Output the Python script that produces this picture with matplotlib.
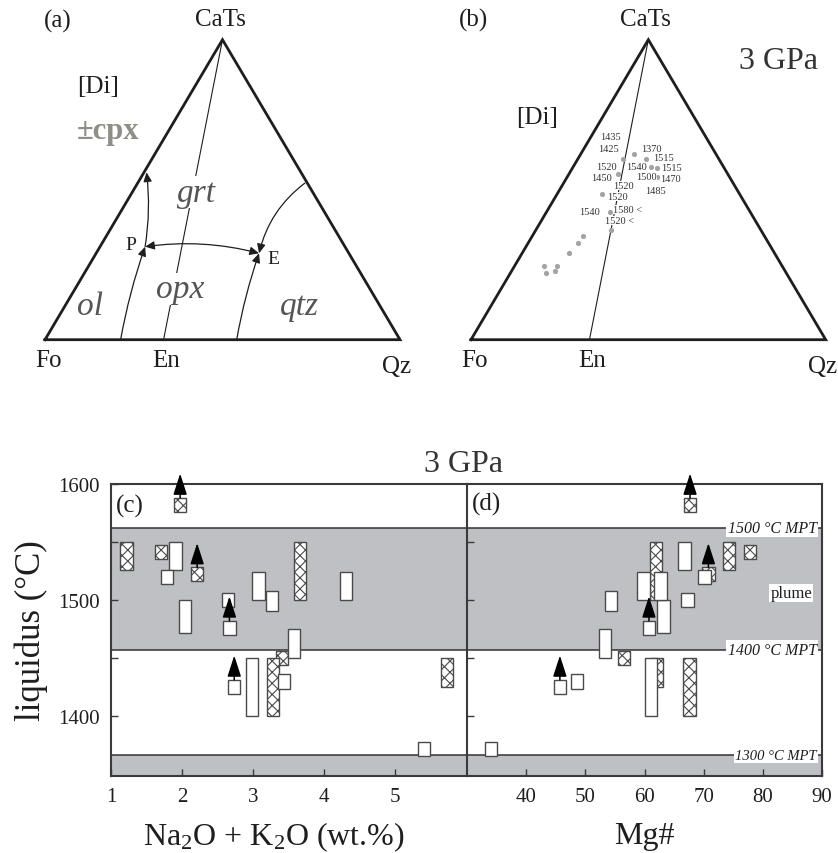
import numpy as np
import matplotlib.pyplot as plt

plt.rcParams['font.family'] = ['Liberation Serif', 'DejaVu Serif']
plt.rcParams['mathtext.default'] = 'regular'
plt.rcParams['hatch.linewidth'] = 0.8

# --- panel (b): melt compositions in the Fo-Qz-CaTs projection
# x: along Fo-Qz base (0..1), y: towards CaTs apex (0..1)
dot_x = [0.429, 0.460, 0.493, 0.508, 0.525, 0.525, 0.414, 0.370, 0.392, 0.395,
         0.316, 0.302, 0.276, 0.205, 0.242, 0.211, 0.236]
dot_y = [0.602, 0.619, 0.602, 0.575, 0.572, 0.543, 0.552, 0.486, 0.425, 0.366,
         0.345, 0.323, 0.289, 0.246, 0.246, 0.221, 0.230]
lab_txt = ['1435', '1425', '1370', '1515', '1520', '1540', '1515', '1450', '1500',
           '1470', '1520', '1485', '1520', '1540', '1580 <', '1520 <']
lab_x = [0.392, 0.387, 0.508, 0.542, 0.381, 0.467, 0.566, 0.368, 0.495,
         0.561, 0.429, 0.519, 0.413, 0.333, 0.441, 0.418]
lab_y = [0.677, 0.638, 0.638, 0.607, 0.578, 0.578, 0.574, 0.540, 0.543,
         0.537, 0.513, 0.499, 0.477, 0.428, 0.433, 0.398]
en_pos = 0.334  # En on the Fo-Qz join

# --- panels (c), (d): liquidus temperature range of each melt
alkali = [1.22, 1.975, 1.71, 1.91, 1.79, 2.215, 2.04, 2.645, 2.67, 3.08, 3.275,
          3.67, 4.315, 3.58, 3.41, 2.738, 2.99, 3.285, 3.435, 5.735, 5.41]
mg_num = [74.3, 67.7, 77.8, 66.75, 70.15, 70.8, 63.2, 67.25, 60.75, 59.85, 54.35,
          61.9, 62.7, 53.35, 56.55, 45.7, 61.05, 67.6, 48.55, 62.1, 34.05]
t_low = [1526, 1576, 1535, 1526, 1514, 1516, 1471, 1494, 1470, 1500, 1490,
         1500, 1500, 1450, 1444, 1419, 1400, 1400, 1423, 1425, 1365]
t_high = [1550, 1588, 1547, 1550, 1526, 1528, 1500, 1506, 1482, 1524, 1508,
          1550, 1524, 1475, 1456, 1431, 1450, 1450, 1436, 1450, 1377]
hatched = [1, 1, 1, 0, 0, 1, 0, 0, 0, 0, 0, 1, 0, 0, 1, 0, 0, 1, 0, 1, 0]
lower_bound = [0, 1, 0, 0, 0, 1, 0, 0, 1, 0, 0, 0, 0, 0, 0, 1, 0, 0, 0, 0, 0]

mpt_lines = [1562, 1457, 1366]
mpt_names = ['1500 °C MPT', '1400 °C MPT', '1300 °C MPT']

dark = '#1e1e1e'
grey = '#bfc0c3'

fig = plt.figure(figsize=(8.38, 8.54), dpi=100)

axa = fig.add_axes([45 / 838, 513.3 / 854, 355 / 838, 300 / 854])
axb = fig.add_axes([471 / 838, 513.3 / 854, 354.7 / 838, 300 / 854])


def triangle(ax):
    ax.plot([0, 1, 0.5, 0], [0, 0, 1, 0], color=dark, lw=2.0, clip_on=False,
            solid_joinstyle='miter', zorder=3)
    ax.plot([0.5, en_pos], [1, 0], color=dark, lw=0.8, zorder=1)
    ax.set_xlim(0, 1)
    ax.set_ylim(0, 1)
    ax.axis('off')
    ax.text(0.493, 1.069, 'CaTs', fontsize=18, ha='center', va='center', color=dark)
    ax.text(0.009, -0.067, 'Fo', fontsize=18, ha='center', va='center', color=dark)
    ax.text(en_pos + 0.008, -0.067, 'En', fontsize=18, ha='center', va='center', color=dark)
    ax.text(0.991, -0.087, 'Qz', fontsize=18, ha='center', va='center', color=dark)


triangle(axa)
triangle(axb)

# panel (a) sketch
axa.text(0.037, 1.063, '(a)', fontsize=18, ha='center', va='center', color=dark)
axa.text(0.150, 0.847, '[Di]', fontsize=18, ha='center', va='center', color=dark)
axa.text(0.178, 0.697, '±cpx', fontsize=22, fontweight='bold', ha='center',
         va='center', color='#8e8e86')
white_box = dict(fc='white', ec='none', pad=0.5)
for s, x, y in [('grt', 0.427, 0.491), ('opx', 0.380, 0.169),
                ('ol', 0.127, 0.113), ('qtz', 0.718, 0.113)]:
    axa.text(x, y, s, fontsize=24, style='italic', ha='center', va='center',
             color='#555555', bbox=white_box, zorder=2)
axa.text(0.241, 0.319, 'P', fontsize=14, ha='center', va='center', color=dark)
axa.text(0.643, 0.271, 'E', fontsize=14, ha='center', va='center', color=dark)


def curve(ax, start, end, rad, style='-|>'):
    ax.annotate('', xy=end, xytext=start,
                arrowprops=dict(arrowstyle=style + ',head_length=0.55,head_width=0.25',
                                mutation_scale=10, color=dark, lw=0.9,
                                shrinkA=0, shrinkB=0,
                                connectionstyle='arc3,rad=%s' % rad))


P = (0.282, 0.310)
E = (0.603, 0.288)
curve(axa, (0.213, 0.0), P, -0.04)
curve(axa, P, (0.286, 0.558), 0.07)
curve(axa, (0.540, 0.0), E, -0.04)
curve(axa, (0.732, 0.522), E, 0.18)
curve(axa, P, E, -0.1, style='<|-|>')

# panel (b) data
axb.text(0.0065, 1.069, '(b)', fontsize=18, ha='center', va='center', color=dark)
axb.text(0.866, 0.930, '3 GPa', fontsize=23, ha='center', va='center', color='#333333')
axb.text(0.185, 0.741, '[Di]', fontsize=18, ha='center', va='center', color=dark)
axb.scatter(dot_x, dot_y, s=14, color='#a3a3a3', zorder=2, linewidths=0)
for s, x, y in zip(lab_txt, lab_x, lab_y):
    axb.text(x, y, s, fontsize=7.5, ha='center', va='center', color='#333333',
             bbox=dict(fc='white', ec='none', pad=0.1), zorder=3)

# panels (c) and (d)
axc = fig.add_axes([111 / 838, 77 / 854, 356 / 838, 292 / 854])
axd = fig.add_axes([467 / 838, 77 / 854, 355 / 838, 292 / 854])

for ax, xv, w in [(axc, alkali, 0.173), (axd, mg_num, 2.07)]:
    ax.set_ylim(1348, 1600)
    ax.axhspan(mpt_lines[1], mpt_lines[0], color=grey, zorder=0, lw=0)
    ax.axhspan(1300, mpt_lines[2], color=grey, zorder=0, lw=0)
    for yv in mpt_lines:
        ax.axhline(yv, color='#333333', lw=1.1, zorder=1)
    for i in range(len(xv)):
        ax.bar(xv[i], t_high[i] - t_low[i], w, bottom=t_low[i], facecolor='white',
               edgecolor='#4a4a4a', lw=1.0, hatch='xxx' if hatched[i] else None,
               zorder=2 if hatched[i] else 3)
        if lower_bound[i]:
            ax.annotate('', xy=(xv[i], t_high[i] + 21), xytext=(xv[i], t_high[i]),
                        arrowprops=dict(arrowstyle='-|>,head_length=1.3,head_width=0.42',
                                        mutation_scale=10, color='black', lw=1.1,
                                        shrinkA=0, shrinkB=0),
                        annotation_clip=False, zorder=5)
    for sp in ax.spines.values():
        sp.set_color('#3a3a3a')
        sp.set_linewidth(1.5)
    ax.tick_params(direction='in', length=5, width=1, color='#3a3a3a',
                   labelsize=15, pad=8, labelcolor=dark)
    ax.tick_params(which='minor', direction='in', length=5, width=1, color='#3a3a3a')

axc.set_xlim(1.0, 6.02)
axc.set_xticks([1, 2, 3, 4, 5])
axc.set_yticks([1400, 1500, 1600])
axc.set_yticks([1450, 1550], minor=True)
axc.spines['right'].set_visible(False)
axc.set_ylabel('liquidus (°C)', fontsize=25, color=dark, va='center')
axc.yaxis.set_label_coords(-0.225, 0.5)
axc.set_xlabel('Na$_2$O + K$_2$O (wt.%)', fontsize=23, color=dark, va='center')
axc.xaxis.set_label_coords(0.458, -0.205)
axc.text(0.053, 0.926, '(c)', transform=axc.transAxes, fontsize=18,
         ha='center', va='center', color=dark)

axd.set_xlim(30, 90)
axd.set_xticks([40, 50, 60, 70, 80, 90])
axd.set_yticks([1400, 1450, 1500, 1550])
axd.tick_params(labelleft=False)
axd.set_xlabel('Mg#', fontsize=23, color=dark, va='center')
axd.xaxis.set_label_coords(0.4986, -0.205)
axd.text(0.0555, 0.932, '(d)', transform=axd.transAxes, fontsize=18,
         ha='center', va='center', color=dark)
for yv, name, fs in zip(mpt_lines, mpt_names, [11.5, 11.5, 10.5]):
    axd.text(89.1, yv, name, fontsize=fs, style='italic', ha='right', va='center',
             color=dark, bbox=dict(fc='white', ec='none', pad=1.0), zorder=4)
axd.text(84.8, 1506, 'plume', fontsize=12, ha='center', va='center', color=dark,
         bbox=dict(fc='white', ec='none', pad=1.0), zorder=4)

fig.text(463.4 / 838, 1 - 465 / 854, '3 GPa', fontsize=23, ha='center',
         va='center', color='#333333')

fig.savefig('out.png', dpi=100)
